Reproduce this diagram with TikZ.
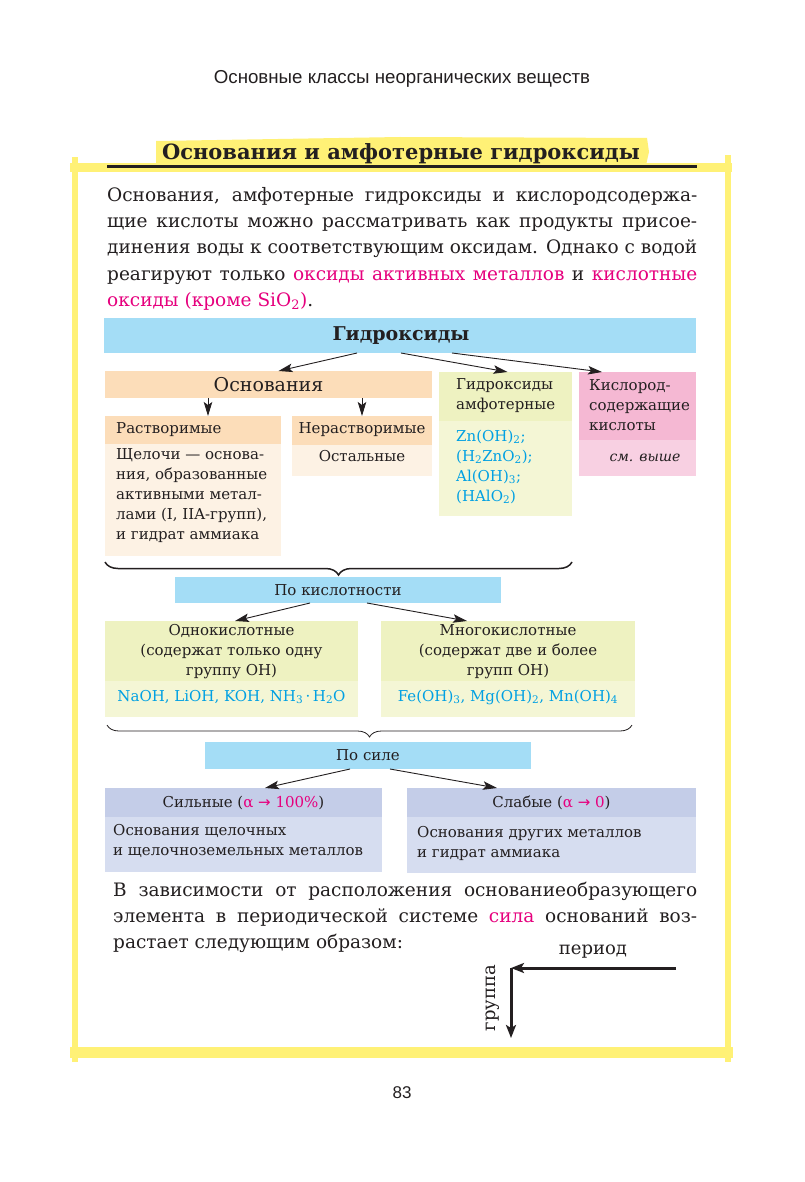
\documentclass[tikz,border=0pt]{standalone}
\usepackage{fontspec}
\setmainfont{DejaVu Serif}
\setsansfont{Liberation Sans}
\newfontfamily\symf{DejaVu Sans}
\usetikzlibrary{arrows.meta,calc,decorations.pathreplacing}
\definecolor{ink}{RGB}{35,31,32}
\definecolor{cblue}{RGB}{164,221,246}
\definecolor{cpeach}{RGB}{252,221,185}
\definecolor{cpeachl}{RGB}{253,242,228}
\definecolor{cgrn}{RGB}{238,242,193}
\definecolor{cgrnl}{RGB}{244,246,213}
\definecolor{cpink}{RGB}{245,184,211}
\definecolor{cpinkl}{RGB}{248,208,226}
\definecolor{cviol}{RGB}{196,205,232}
\definecolor{cviols}{RGB}{214,221,240}
\definecolor{cmag}{RGB}{230,0,126}
\definecolor{ccyan}{RGB}{0,160,227}
\definecolor{hl}{RGB}{255,241,118}
\newcommand\sbs[1]{\textsubscript{#1}}
\newcommand\LinesL[1]{\vtop{\baselineskip=20pt\lineskiplimit=-10pt\halign{##\hfil\cr#1\crcr}}}
\newcommand\LinesC[1]{\vtop{\baselineskip=20pt\lineskiplimit=-10pt\halign{\hfil##\hfil\cr#1\crcr}}}
\newcommand\arrsym{{\symf →}}
\begin{document}
\begin{tikzpicture}[x=1pt,y=-1pt,
  rect/.style={inner sep=0pt, outer sep=0pt, anchor=north west, draw=none},
  txt/.style={inner sep=0pt, anchor=base west, text=ink, font=\fontsize{15}{20}\selectfont},
  ctxt/.style={txt, anchor=base},
  ptxt/.style={inner sep=0pt, anchor=base west, text=ink, font=\fontsize{18.5}{26}\selectfont},
  arr/.style={draw=ink, line width=0.9pt, -{Stealth[length=14pt,width=8.5pt,inset=3pt]}},
  bigarr/.style={draw=ink, line width=3pt, -{Stealth[length=13pt,width=10pt,inset=3pt]}},
  brc/.style={draw=ink, decorate, decoration={brace,mirror,amplitude=13pt}}
]
\useasboundingbox[fill=white] (0,0) rectangle (804,1182);

% header
\node[inner sep=0pt, anchor=base, text=ink, font=\sffamily\fontsize{18.7}{22}\selectfont] (hdr) at (402,84) {Основные классы неорганических веществ};

% yellow highlighter frame
\fill[hl] (156,141) -- (400,137) -- (647,138) -- (649,152) -- (646,165) -- (156,165) -- cycle;
\fill[hl] (70,163) rectangle (732,172);
\fill[hl] (72,157) rectangle (78,1062);
\fill[hl] (725,155) rectangle (731,1062);
\fill[hl] (70,1047) rectangle (733,1058);

% title
\draw[ink, line width=3pt] (107,167) -- (697,167);
\node[inner sep=0pt, anchor=base, text=ink, font=\bfseries\fontsize{21}{24}\selectfont] (title) at (401,160) {Основания и амфотерные гидроксиды};

% paragraph 1
\node[ptxt] (p1a) at (107,202) {\makebox[590pt][s]{Основания, амфотерные гидроксиды и кислородсодержа-}};
\node[ptxt] (p1b) at (107,228) {\makebox[590pt][s]{щие кислоты можно рассматривать как продукты присое-}};
\node[ptxt] (p1c) at (107,254) {\makebox[590pt][s]{динения воды к соответствующим оксидам. Однако с водой}};
\node[ptxt] (p1d) at (107,280) {\makebox[590pt][s]{реагируют только {\color{cmag}оксиды активных металлов} и {\color{cmag}кислотные}}};
\node[ptxt] (p1e) at (107,306) {{\color{cmag}оксиды (кроме SiO\sbs{2})}.};

% boxes
\node[rect, fill=cblue, minimum width=592pt, minimum height=35pt] (hyd) at (104,318) {};
\node[inner sep=0pt, anchor=base, text=ink, font=\bfseries\fontsize{19}{22}\selectfont] (hydT) at (401,340) {Гидроксиды};

\node[rect, fill=cpeach, minimum width=327pt, minimum height=27pt] (osn) at (105,371) {};
\node[inner sep=0pt, anchor=base, text=ink, font=\fontsize{19}{22}\selectfont] (osnT) at (268.5,391) {Основания};

\node[rect, fill=cpeach, minimum width=176pt, minimum height=28pt] (rastH) at (105,416) {};
\node[rect, fill=cpeachl, minimum width=176pt, minimum height=112pt] (rastB) at (105,444) {};
\node[txt] (rastHT) at (116,433) {Растворимые};
\node[txt] (rastBT) at (116,459) {\LinesL{Щелочи — основа-\cr ния, образованные\cr активными метал-\cr лами (I, IIA-групп),\cr и гидрат аммиака}};

\node[rect, fill=cpeach, minimum width=140pt, minimum height=29pt] (nerH) at (292,416) {};
\node[rect, fill=cpeachl, minimum width=140pt, minimum height=31pt] (nerB) at (292,445) {};
\node[ctxt] (nerHT) at (362,433) {Нерастворимые};
\node[ctxt] (nerBT) at (362,461) {Остальные};

\node[rect, fill=cgrn, minimum width=133pt, minimum height=49pt] (amphH) at (439,372) {};
\node[rect, fill=cgrnl, minimum width=133pt, minimum height=95pt] (amphB) at (439,421) {};
\node[txt] (amphHT) at (456,389) {\LinesL{Гидроксиды\cr амфотерные}};
\node[txt, text=ccyan] (amphBT) at (456,441) {\LinesL{Zn(OH)\sbs{2};\cr (H\sbs{2}ZnO\sbs{2});\cr Al(OH)\sbs{3};\cr (HAlO\sbs{2})}};

\node[rect, fill=cpink, minimum width=117pt, minimum height=68pt] (kisH) at (579,372) {};
\node[rect, fill=cpinkl, minimum width=117pt, minimum height=36pt] (kisB) at (579,440) {};
\node[txt] (kisHT) at (589,390) {\LinesL{Кислород-\cr содержащие\cr кислоты}};
\node[ctxt, font=\itshape\fontsize{14}{20}\selectfont] (kisBT) at (645,461) {см. выше};

% arrows from Гидроксиды
\draw[arr] ($(hyd.south)+(-43,0)$) -- ($(osn.north)+(10,0)$);
\draw[arr] ($(hyd.south)+(1,0)$) -- ($(amphH.north)+(2,0)$);
\draw[arr] ($(hyd.south)+(52,0)$) -- ($(kisH.north west)+(23,0)$);
\coordinate (ra) at ($(rastH.north)+(15,0)$);
\draw[arr] (osn.south -| ra) -- (ra);
\draw[arr] (osn.south -| nerH.north) -- (nerH.north);

% brace 1
\coordinate (b1l) at (105,562);
\coordinate (b1r) at (572,562);
\draw[brc, line width=1.5pt] (b1l) -- (b1r);

% По кислотности
\node[rect, fill=cblue, minimum width=326pt, minimum height=26pt] (pokis) at (175,577) {};
\node[ctxt] (pokisT) at (338,595) {По кислотности};

\node[rect, fill=cgrn, minimum width=253pt, minimum height=60pt] (odnH) at (105,621) {};
\node[rect, fill=cgrnl, minimum width=253pt, minimum height=36pt] (odnB) at (105,681) {};
\node[ctxt] (odnHT) at (231.5,635) {\LinesC{Однокислотные\cr (содержат только одну\cr группу OH)}};
\node[ctxt, text=ccyan] (odnBT) at (231.5,701) {NaOH, LiOH, KOH, NH\sbs{3}\,·\,H\sbs{2}O};

\node[rect, fill=cgrn, minimum width=254pt, minimum height=60pt] (mnoH) at (381,621) {};
\node[rect, fill=cgrnl, minimum width=254pt, minimum height=36pt] (mnoB) at (381,681) {};
\node[ctxt] (mnoHT) at (508,635) {\LinesC{Многокислотные\cr (содержат две и более\cr групп OH)}};
\node[ctxt, text=ccyan] (mnoBT) at (508,701) {Fe(OH)\sbs{3}, Mg(OH)\sbs{2}, Mn(OH)\sbs{4}};

\draw[arr] ($(pokis.south)+(-28,0)$) -- ($(odnH.north)+(3.5,0)$);
\draw[arr] ($(pokis.south)+(29,0)$) -- ($(mnoH.north)+(-41,0)$);

% brace 2
\coordinate (b2l) at (107,725);
\coordinate (b2r) at (632,725);
\draw[brc, line width=0.8pt, decoration={brace,mirror,amplitude=12pt}] (b2l) -- (b2r);

% По силе
\node[rect, fill=cblue, minimum width=326pt, minimum height=27pt] (posila) at (205,742) {};
\node[ctxt] (posilaT) at (368,760) {По силе};

\node[rect, fill=cviol, minimum width=277pt, minimum height=29pt] (silH) at (105,788) {};
\node[rect, fill=cviols, minimum width=277pt, minimum height=55pt] (silB) at (105,817) {};
\node[ctxt] (silHT) at (243.5,807) {Сильные ({\color{cmag}α \arrsym{} 100\%})};
\node[txt] (silBT) at (113,835) {\LinesL{Основания щелочных\cr и щелочноземельных металлов}};

\node[rect, fill=cviol, minimum width=289pt, minimum height=29pt] (slaH) at (407,788) {};
\node[rect, fill=cviols, minimum width=289pt, minimum height=56pt] (slaB) at (407,817) {};
\node[ctxt] (slaHT) at (551.5,807) {Слабые ({\color{cmag}α \arrsym{} 0})};
\node[txt] (slaBT) at (417,837) {\LinesL{Основания других металлов\cr и гидрат аммиака}};

\draw[arr] ($(posila.south)+(-18,0)$) -- ($(silH.north)+(21.5,0)$);
\draw[arr] ($(posila.south)+(22,0)$) -- ($(slaH.north)+(-54.5,0)$);

% paragraph 2
\node[ptxt] (p2a) at (113,896) {\makebox[584pt][s]{В зависимости от расположения основаниеобразующего}};
\node[ptxt] (p2b) at (113,922) {\makebox[584pt][s]{элемента в периодической системе {\color{cmag}сила} оснований воз-}};
\node[ptxt] (p2c) at (113,948) {растает следующим образом:};

% period / group arrows
\coordinate (pr) at (676,968);
\coordinate (corner) at (511,968);
\coordinate (gr) at (511,1038);
\draw[bigarr] (pr) -- (corner);
\draw[bigarr] (corner) -- (gr);
\node[inner sep=0pt, text=ink, font=\fontsize{18}{20}\selectfont] (perT) at (593,952) {период};
\node[inner sep=0pt, text=ink, rotate=90, font=\fontsize{18}{20}\selectfont] (grT) at (493,998) {группа};

% page number
\node[inner sep=0pt, anchor=base, text=ink, font=\sffamily\fontsize{17}{20}\selectfont] (pnum) at (402,1098) {83};
\end{tikzpicture}
\end{document}
